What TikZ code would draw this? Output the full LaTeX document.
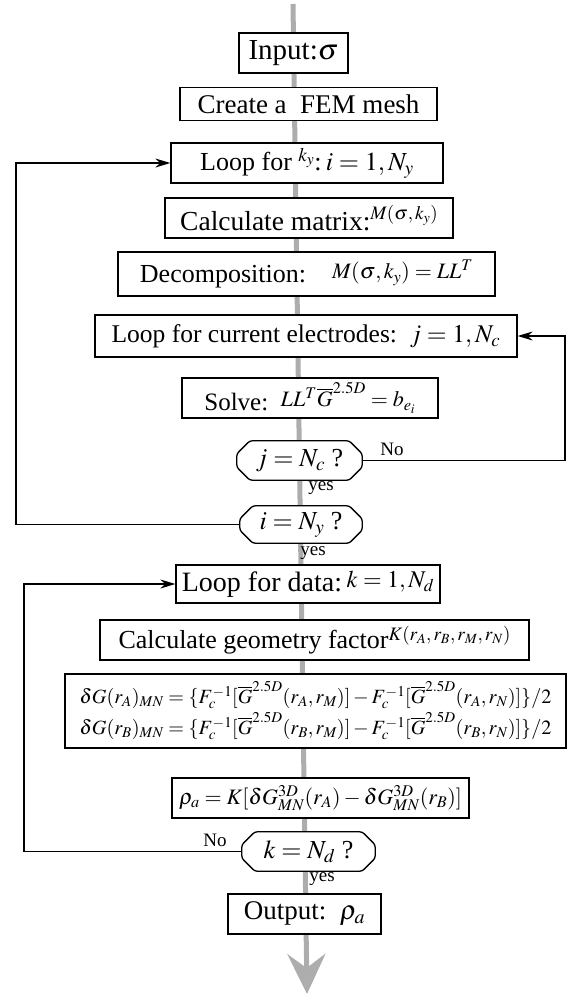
\documentclass[tikz,border=0pt]{standalone}
\usepackage{mathptmx}
\usepackage[no-math]{fontspec}
\setmainfont{Liberation Serif}
\usepackage{graphicx}
\usetikzlibrary{arrows.meta,calc}
\pgfdeclarelayer{bgg}\pgfdeclarelayer{bg}\pgfsetlayers{bgg,bg,main}
\newcommand{\fsz}[1]{\fontsize{#1}{#1}\selectfont}
\newcommand{\octopath}[1]{\begin{pgfonlayer}{bg}\draw[octo] ([xshift=13pt]#1.north west) -- ([xshift=-13pt]#1.north east) -- ([yshift=-13pt]#1.north east) -- ([yshift=13pt]#1.south east) -- ([xshift=-13pt]#1.south east) -- ([xshift=13pt]#1.south west) -- ([yshift=13pt]#1.south west) -- ([yshift=-13pt]#1.north west) -- cycle;\end{pgfonlayer}}
\begin{document}
\begin{tikzpicture}[x=1pt,y=-1pt,
  pbox/.style={draw,line width=1.3pt,fill=white,inner sep=0pt,font=\fsz{26}},
  dtext/.style={inner sep=0pt,font=\fsz{26}},
  octo/.style={draw,line width=1.3pt,fill=white,rounded corners=2.5pt},
  conn/.style={line width=1.3pt,-{Stealth[length=15pt,width=9pt]}},
  lbl/.style={font=\fsz{19},inner sep=0pt},
  spine/.style={line width=5pt,draw=black!32,-{Stealth[length=40pt,width=38pt,inset=14pt]}}]
\useasboundingbox (0,0) rectangle (568,997);
% boxes
\node[pbox,font=\fsz{29},minimum width=109pt,minimum height=40pt] (in) at (293.5,53) {Input:$\sigma$};
\node[pbox,font=\fsz{27},minimum width=257pt,minimum height=33pt] (mesh) at (308.5,104) {Create a \ FEM mesh};
\node[pbox,minimum width=272pt,minimum height=40pt] (loopk) at (307,163) {Loop for \raisebox{0.35em}{$\scriptstyle k_y$}:\,$i=1,N_y$};
\node[pbox,font=\fsz{27.5},minimum width=288pt,minimum height=40pt] (calcM) at (309,218) {Calculate matrix:\raisebox{0.4em}{\fsz{19}$M(\sigma,k_y)$}};
\node[pbox,minimum width=377pt,minimum height=44pt] (decomp) at (306.5,274) {Decomposition:\quad{\fsz{22}\raisebox{0.15em}{$M(\sigma,k_y)=LL^T$}}};
\node[pbox,font=\fsz{25.5},minimum width=422pt,minimum height=42pt] (loopc) at (306,336) {Loop for current electrodes:\ \ $j=1,N_c$};
\node[pbox,font=\fsz{25},minimum width=256pt,minimum height=40pt] (solve) at (310,398) {Solve:\ \ {\fsz{22}\raisebox{0.15em}{$LL^T\overline{G}^{2.5D}=b_{e_i}$}}};
\node[dtext,minimum width=125pt,minimum height=39pt] (decj) at (299.5,460.5) {$j=N_c$ ?};
\octopath{decj}
\node[dtext,minimum width=122pt,minimum height=37pt] (deci) at (301,524.5) {$i=N_y$ ?};
\octopath{deci}
\node[pbox,font=\fsz{28},minimum width=264pt,minimum height=38pt] (loopd) at (308,584) {Loop for data:\,{\fsz{24}\raisebox{0.15em}{$k=1,N_d$}}};
\node[pbox,minimum width=429pt,minimum height=40pt] (geom) at (314.5,640) {Calculate geometry factor\raisebox{0.3em}{\fsz{19}$K(r_A,r_B,r_M,r_N)$}};
\node[pbox,minimum width=501pt,minimum height=74pt] (dG) at (315.5,711) {\resizebox{472pt}{!}{$\begin{array}{@{}l@{}}
\delta G(r_A)_{MN}=\{F_c^{-1}[\overline{G}^{2.5D}(r_A,r_M)]-F_c^{-1}[\overline{G}^{2.5D}(r_A,r_N)]\}/2\\[4pt]
\delta G(r_B)_{MN}=\{F_c^{-1}[\overline{G}^{2.5D}(r_B,r_M)]-F_c^{-1}[\overline{G}^{2.5D}(r_B,r_N)]\}/2
\end{array}$}};
\node[pbox,minimum width=297pt,minimum height=40pt] (rho) at (320.5,798) {\resizebox{283pt}{!}{$\rho_a=K[\delta G^{3D}_{MN}(r_A)-\delta G^{3D}_{MN}(r_B)]$}};
\node[dtext,minimum width=133pt,minimum height=39pt] (deck) at (308.5,851.5) {$k=N_d$ ?};
\octopath{deck}
\node[pbox,font=\fsz{27},minimum width=153pt,minimum height=40pt] (out) at (304.5,914) {Output:\ \ $\rho_a$};
% labels
\node[lbl] (noj) at (392,449) {No};
\node[lbl] (yesj) at (321,488) {yes};
\node[lbl] (yesi) at (313,553) {yes};
\node[lbl] (nok) at (215,840) {No};
\node[lbl] (yesk) at (322,879) {yes};
% spine
\coordinate (top) at (293,4);
\coordinate (bot) at (307,994);
\begin{pgfonlayer}{bgg}
\draw[spine] (top) -- (bot);
\end{pgfonlayer}
% loops
\coordinate (L1) at (16,0);
\coordinate (R1) at (565,0);
\coordinate (L2) at (24,0);
\draw[conn] (deci.west) -- (deci.west -| L1) -- (loopk.west -| L1) -- (loopk.west);
\draw[conn] (decj.east) -- (decj.east -| R1) -- (loopc.east -| R1) -- (loopc.east);
\draw[conn] (deck.west) -- (deck.west -| L2) -- (loopd.west -| L2) -- (loopd.west);
\end{tikzpicture}
\end{document}
